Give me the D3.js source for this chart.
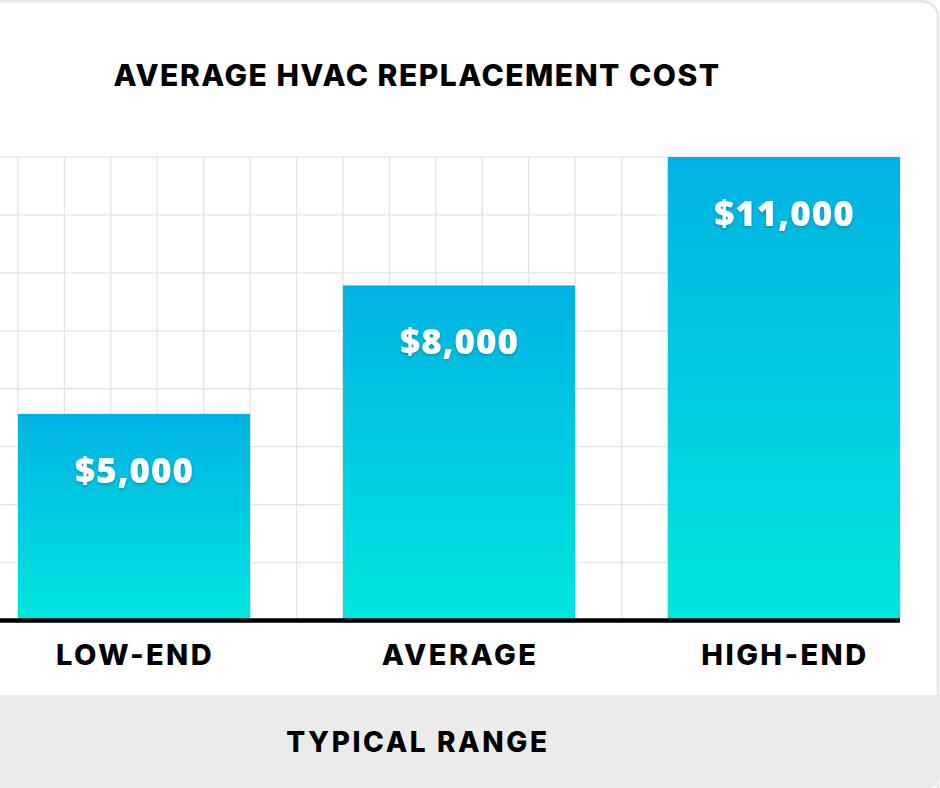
<!DOCTYPE html>
<html>
<head>
<meta charset="utf-8">
<script src="https://cdn.jsdelivr.net/npm/d3@7"></script>
<style>
  html, body { margin: 0; padding: 0; background: #ffffff; }
  svg { display: block; }
</style>
</head>
<body>
<svg id="chart" width="940" height="788"></svg>
<script>
// ---- data ----
const categories = ["LOW-END", "AVERAGE", "HIGH-END"];
const costs = [5000, 8000, 11000];
const valueLabels = ["$5,000", "$8,000", "$11,000"];
const titleText = "AVERAGE HVAC REPLACEMENT COST";
const axisTitle = "TYPICAL RANGE";

const svg = d3.select("#chart");
const W = 940, H = 788;

const baseY = 620.5;
const plotTop = 157;
const plotLeft = 18, plotRight = 900;

// card
svg.append("rect")
  .attr("x", -30).attr("y", 1.25)
  .attr("width", 968).attr("height", 900)
  .attr("rx", 16)
  .attr("fill", "#ffffff")
  .attr("stroke", "#e6e6e6")
  .attr("stroke-width", 2.5);

// bottom grey band
svg.append("path")
  .attr("d", `M0,695 L940,695 L940,776 Q940,788 928,788 L0,788 Z`)
  .attr("fill", "#ebebeb");

// defs
const defs = svg.append("defs");
const grad = defs.append("linearGradient")
  .attr("id", "barGrad").attr("x1", 0).attr("y1", 0).attr("x2", 0).attr("y2", 1);
grad.append("stop").attr("offset", "0%").attr("stop-color", "#00b2e3");
grad.append("stop").attr("offset", "100%").attr("stop-color", "#00e6df");

const shadow = defs.append("filter").attr("id", "txtShadow")
  .attr("x", "-20%").attr("y", "-40%").attr("width", "140%").attr("height", "180%");
shadow.append("feDropShadow")
  .attr("dx", 0).attr("dy", 1.5).attr("stdDeviation", 1.5)
  .attr("flood-color", "#000").attr("flood-opacity", 0.22);

// scales
const x = d3.scaleBand()
  .domain(categories)
  .range([plotLeft, plotRight])
  .paddingInner(2 / 7)
  .paddingOuter(0);

const y = d3.scaleLinear()
  .domain([0, d3.max(costs)])
  .range([628, plotTop]);

// grid (decorative): cells of step/7 wide, 8 rows
const cell = x.step() / 7;
const nCols = Math.round((plotRight - plotLeft) / cell);
const gx = d3.range(-1, nCols + 1).map(i => plotLeft + i * cell);
const nRows = 8;
const rowH = (baseY - plotTop) / nRows;
const gy = d3.range(0, nRows).map(i => plotTop + i * rowH);

const grid = svg.append("g").attr("stroke", "#e4e4e4").attr("stroke-width", 1.3);
grid.selectAll("line.v").data(gx).join("line")
  .attr("x1", d => d).attr("x2", d => d)
  .attr("y1", plotTop).attr("y2", baseY);
grid.selectAll("line.h").data(gy).join("line")
  .attr("x1", 0).attr("x2", plotRight)
  .attr("y1", d => d).attr("y2", d => d);

// bars
svg.append("g").selectAll("rect").data(costs).join("rect")
  .attr("x", (d, i) => x(categories[i]))
  .attr("width", x.bandwidth())
  .attr("y", d => y(d))
  .attr("height", d => baseY - y(d))
  .attr("fill", "url(#barGrad)");

// baseline
svg.append("line")
  .attr("x1", 0).attr("x2", plotRight)
  .attr("y1", baseY).attr("y2", baseY)
  .attr("stroke", "#000").attr("stroke-width", 4.5);

// value labels
svg.append("g").selectAll("text").data(costs).join("text")
  .attr("x", (d, i) => x(categories[i]) + x.bandwidth() / 2 + 0.5)
  .attr("y", d => y(d) + 69)
  .attr("text-anchor", "middle")
  .attr("font-family", "'Open Sans', sans-serif")
  .attr("font-weight", 800)
  .attr("font-size", 35)
  .attr("letter-spacing", 1)
  .attr("fill", "#ffffff")
  .attr("filter", "url(#txtShadow)")
  .text((d, i) => valueLabels[i]);

// category labels
const xAxis = d3.axisBottom(x).tickSize(0).tickPadding(0);
const ax = svg.append("g").attr("transform", `translate(0,${baseY})`).call(xAxis);
ax.select(".domain").remove();
ax.selectAll("text")
  .attr("dy", 0).attr("y", 44.5)
  .attr("x", 1)
  .attr("font-family", "Inter, sans-serif")
  .attr("font-weight", 800)
  .attr("font-size", 29)
  .attr("letter-spacing", 2.4)
  .attr("fill", "#000");

// title
svg.append("text")
  .attr("x", 417).attr("y", 86)
  .attr("text-anchor", "middle")
  .attr("font-family", "Inter, sans-serif")
  .attr("font-weight", 800)
  .attr("font-size", 30)
  .attr("letter-spacing", 1.5)
  .attr("fill", "#000")
  .text(titleText);

// axis title
svg.append("text")
  .attr("x", 418).attr("y", 752)
  .attr("text-anchor", "middle")
  .attr("font-family", "Inter, sans-serif")
  .attr("font-weight", 800)
  .attr("font-size", 28)
  .attr("letter-spacing", 2.6)
  .attr("fill", "#000")
  .text(axisTitle);
</script>
</body>
</html>
